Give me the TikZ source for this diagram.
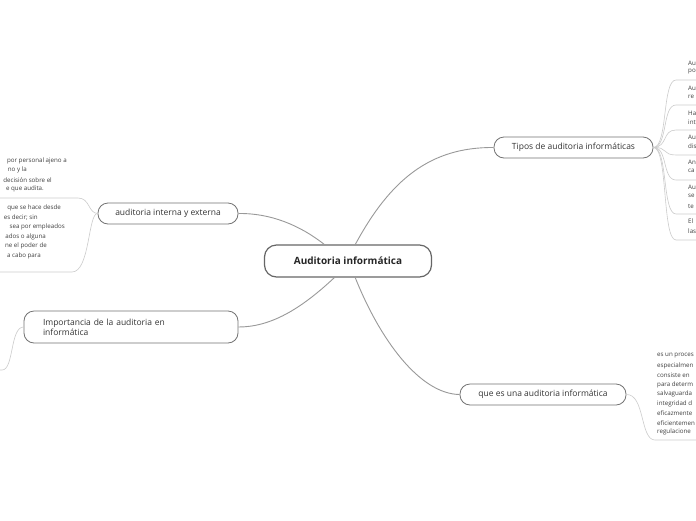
\documentclass[tikz,border=0pt]{standalone}
\usepackage{fontspec}
\setmainfont{Open Sans}
\begin{document}
\begin{tikzpicture}[x=1pt,y=-1pt,
 topic/.style={draw=black!55,line width=0.8pt,rounded corners=10pt,font=\fontsize{8.5}{10}\selectfont,text=black!80},
 main/.style={draw=black!60,line width=1.2pt,rounded corners=12pt,font=\bfseries\fontsize{10}{12}\selectfont,text=black!85},
 br/.style={draw=black!40,line width=0.9pt},
 sub/.style={draw=black!20,line width=0.6pt},
 sm/.style={font=\fontsize{6.2}{7}\selectfont,text=black!75,inner sep=0pt}]
\useasboundingbox (0,0) rectangle (696,520);
\clip (0,0) rectangle (696,520);
\fill[white] (0,0) rectangle (696,520);
\node[main,minimum width=167pt,minimum height=32pt] (c) at (348,261) {Auditoria informática};
\node[topic,minimum width=159pt,minimum height=21pt] (t) at (573.5,147.5) {Tipos de auditoria informáticas};
\node[topic,minimum width=140pt,minimum height=21pt] (i) at (168,213.5) {auditoria interna y externa};
\node[topic,minimum width=214pt,minimum height=32pt,text width=200pt,align=left] (m) at (131,327) {\hspace*{12pt}Importancia de la auditoria en\\\hspace*{12pt}informática};
\node[topic,minimum width=166pt,minimum height=21pt] (q) at (543,394.5) {que es una auditoria informática};
\draw[br] (355,245) .. controls (390,180) and (430,147) .. (t.west);
\draw[br] (325,245) .. controls (300,225) and (270,213) .. (i.east);
\draw[br] (335,277) .. controls (300,310) and (270,327) .. (m.east);
\draw[br] (355,277) .. controls (380,340) and (420,394) .. (q.west);
% tipos leaves
\foreach \ya/\yb/\ul in {63/72/80,88/97/105,113/122/130,137/146/155,162/171/180}{}
\coordinate (tr) at (t.east);
\foreach \ul in {80,105,130,155,180,214,240}{
 \draw[sub] (tr) .. controls (668,147) and (662,\ul) .. (676,\ul) -- (700,\ul);}
\foreach \y/\s in {63/Au,72/po,88/Au,97/re,113/Ha,122/int,137/Au,146/dis,162/An,171/ca,187/Au,196/se,206/te,221/El,231/las}{
 \node[sm,anchor=west] (tl\y) at (688,\y) {\s};}
% interna leaves
\coordinate (il) at (i.west);
\draw[sub] (il) .. controls (88,213) and (90,198) .. (78,198) -- (-5,198);
\draw[sub] (il) .. controls (88,213) and (90,272) .. (72,272) -- (-5,272);
\foreach \y/\e/\s in {161/67/por personal ajeno a,170/27/no y la,180/52/decisión sobre el,189/44/e que audita.,208/61/que se hace desde,218/38/es decir; sin,227/65/sea por empleados,237/46/ados o alguna,246/47/ne el poder de,256/41/a cabo para}{
 \node[sm,anchor=east] (il\y) at (\e,\y) {\s};}
% importancia
\draw[sub] (m.west) .. controls (10,327) and (14,370) .. (2,370) -- (-5,370);
% que es
\draw[sub] (q.east) .. controls (645,394) and (640,440) .. (655,440) -- (700,440);
\foreach \y/\s in {356/es un proces,366/especialmen,375/consiste en,385/para determ,394/salvaguarda,404/integridad d,413/eficazmente,423/eficientemen,432/regulacione}{
 \node[sm,anchor=west] (q\y) at (657,\y) {\s};}
\end{tikzpicture}
\end{document}
